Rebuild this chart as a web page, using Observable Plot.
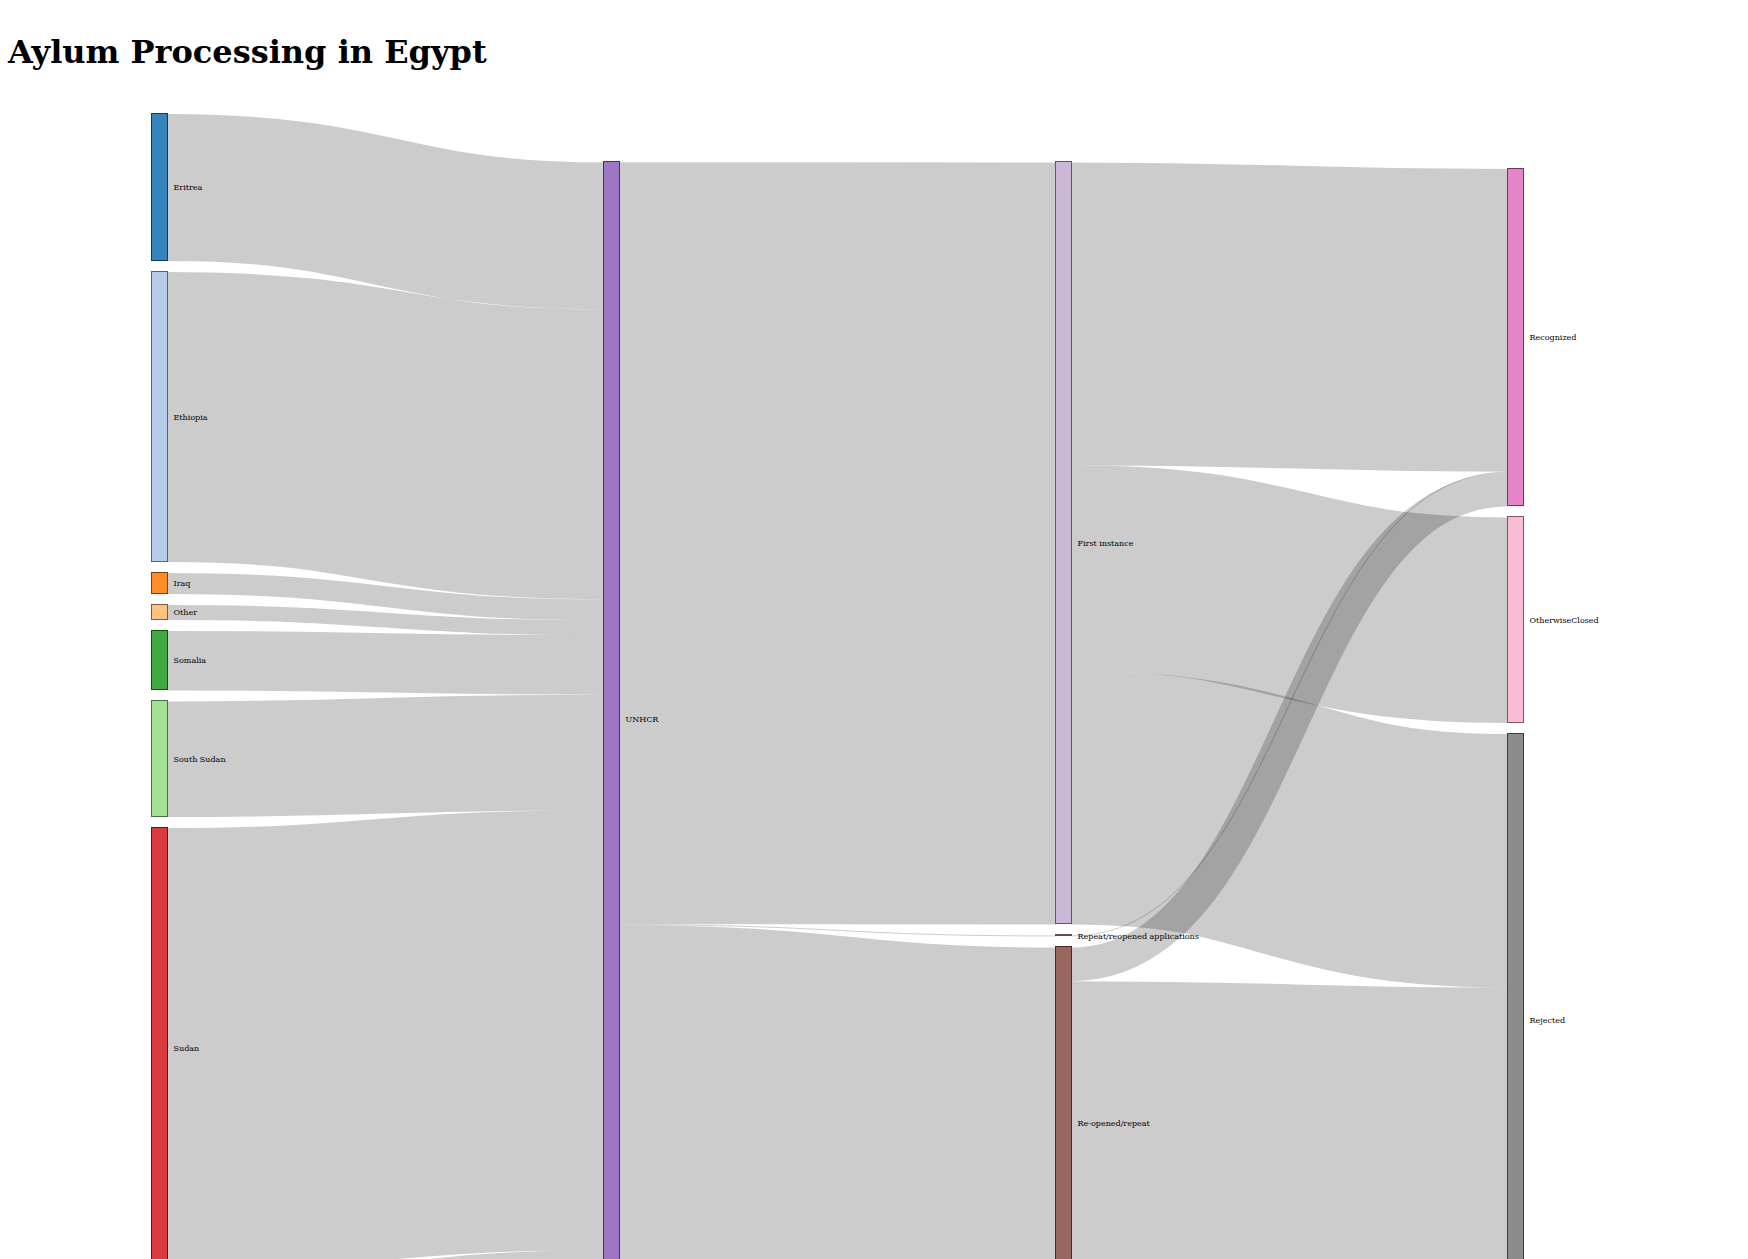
<!DOCTYPE html>
<html><head><meta charset="utf-8">
<script src="https://cdn.jsdelivr.net/npm/d3@7"></script>
<script src="https://cdn.jsdelivr.net/npm/@observablehq/plot@0.6"></script>
<style>
body{margin:0;background:#fff;}
h1{margin:0;padding:32px 0 0 8px;height:48px;font:bold 32px/40px "DejaVu Serif",serif;color:#000;}
#chart svg{display:block;overflow:visible;}
</style></head><body>
<h1>Aylum Processing in Egypt</h1>
<div id="chart"></div>
<script>
// ---- data (cases) ----
const origins = ["Eritrea","Ethiopia","Iraq","Other","Somalia","South Sudan","Sudan","Syria"];
const originCases = [1470, 2900, 210, 150, 594, 1156, 4400, 270];
const office = "UNHCR";
const procedures = ["First instance","Re-opened/repeat","Repeat/reopened applications"];
const outcomes = ["Recognized","OtherwiseClosed","Rejected"];
const firstInstanceOutcomes = [3027, 2056, 2537];
const reopenedOutcomes = [337, 0, 3183];
const repeatOutcomes = [10, 0, 0];

// ---- style / layout parameters ----
const palette = ["#1f77b4","#aec7e8","#ff7f0e","#ffbb78","#2ca02c","#98df8a","#d62728","#ff9896","#9467bd","#c5b0d5","#8c564b","#c49c94","#e377c2","#f7b6d2","#7f7f7f","#c7c7c7"];
const nodePadding = 11, nodeWidth = 16, pxPerCase = 0.1, iterations = 100;

function buildGraph() {
  const names = [...origins, office, ...procedures, ...outcomes];
  const idx = n => names.indexOf(n);
  const L = [];
  origins.forEach((o, i) => L.push({source: idx(o), target: idx(office), value: originCases[i]}));
  const procOut = [firstInstanceOutcomes, reopenedOutcomes, repeatOutcomes];
  procedures.forEach((p, i) => L.push({source: idx(office), target: idx(p), value: d3.sum(procOut[i])}));
  procedures.forEach((p, i) => outcomes.forEach((t, j) => { if (procOut[i][j] > 0) L.push({source: idx(p), target: idx(t), value: procOut[i][j]}); }));
  return {names, L};
}

// Sankey layout (d3-sankey style relaxation)
function sankeyLayout(names, linkList, X0, Y0, X1, Y1) {
  const dx = nodeWidth, py = nodePadding;
  const nodes = names.map((name, index) => ({name, index, sourceLinks: [], targetLinks: []}));
  const links = linkList.map((l, index) => ({index, source: nodes[l.source], target: nodes[l.target], value: l.value}));
  links.forEach(l => { l.source.sourceLinks.push(l); l.target.targetLinks.push(l); });
  nodes.forEach(n => n.value = Math.max(d3.sum(n.sourceLinks, l => l.value), d3.sum(n.targetLinks, l => l.value)));
  let current = new Set(nodes), next = new Set(), x = 0;
  while (current.size) { for (const n of current) { n.depth = x; for (const {target} of n.sourceLinks) next.add(target); } ++x; current = next; next = new Set(); }
  const nCols = d3.max(nodes, d => d.depth) + 1;
  const kx = (X1 - X0 - dx) / (nCols - 1);
  const columns = Array.from({length: nCols}, () => []);
  for (const n of nodes) { const i = n.sourceLinks.length ? n.depth : nCols - 1; n.layer = i; n.x0 = X0 + i * kx; n.x1 = n.x0 + dx; columns[i].push(n); }
  const aB = (a, b) => a.y0 - b.y0;
  const aSB = (a, b) => aB(a.source, b.source) || a.index - b.index;
  const aTB = (a, b) => aB(a.target, b.target) || a.index - b.index;
  const reorderNodeLinks = ({sourceLinks, targetLinks}) => {
    for (const {source: {sourceLinks: s}} of targetLinks) s.sort(aTB);
    for (const {target: {targetLinks: t}} of sourceLinks) t.sort(aSB);
  };
  const ky = d3.min(columns, c => (Y1 - Y0 - (c.length - 1) * py) / d3.sum(c, n => n.value));
  for (const ns of columns) {
    let y = Y0;
    for (const n of ns) { n.y0 = y; n.y1 = y + n.value * ky; y = n.y1 + py; for (const l of n.sourceLinks) l.width = l.value * ky; }
    y = (Y1 - y + py) / (ns.length + 1);
    ns.forEach((n, i) => { n.y0 += y * (i + 1); n.y1 += y * (i + 1); });
    for (const {sourceLinks, targetLinks} of ns) { sourceLinks.sort(aTB); targetLinks.sort(aSB); }
  }
  const targetTop = (source, target) => {
    let y = source.y0 - (source.sourceLinks.length - 1) * py / 2;
    for (const {target: node, width} of source.sourceLinks) { if (node === target) break; y += width + py; }
    for (const {source: node, width} of target.targetLinks) { if (node === source) break; y -= width; }
    return y;
  };
  const sourceTop = (source, target) => {
    let y = target.y0 - (target.targetLinks.length - 1) * py / 2;
    for (const {source: node, width} of target.targetLinks) { if (node === source) break; y += width + py; }
    for (const {target: node, width} of source.sourceLinks) { if (node === target) break; y -= width; }
    return y;
  };
  const resolve = ns => {
    let y = Y0;
    for (const n of ns) { const d = y - n.y0; if (d > 0) n.y0 += d, n.y1 += d; y = n.y1 + py; }
    y = Y1;
    for (let i = ns.length - 1; i >= 0; --i) { const n = ns[i]; const d = n.y1 - y; if (d > 0) n.y0 -= d, n.y1 -= d; y = n.y0 - py; }
  };
  for (let it = 0; it < iterations; ++it) {
    const alpha = Math.pow(0.99, it);
    for (let i = columns.length - 2; i >= 0; --i) {
      const col = columns[i];
      for (const s of col) {
        let y = 0, w = 0;
        for (const {target, value} of s.sourceLinks) { const v = value * (target.layer - s.layer); y += sourceTop(s, target) * v; w += v; }
        if (!(w > 0)) continue;
        const d = (y / w - s.y0) * alpha; s.y0 += d; s.y1 += d; reorderNodeLinks(s);
      }
      col.sort(aB); resolve(col);
    }
    for (let i = 1; i < columns.length; ++i) {
      const col = columns[i];
      for (const t of col) {
        let y = 0, w = 0;
        for (const {source, value} of t.targetLinks) { const v = value * (t.layer - source.layer); y += targetTop(source, t) * v; w += v; }
        if (!(w > 0)) continue;
        const d = (y / w - t.y0) * alpha; t.y0 += d; t.y1 += d; reorderNodeLinks(t);
      }
      col.sort(aB); resolve(col);
    }
  }
  for (const n of nodes) {
    let a = n.y0, b = n.y0;
    for (const l of n.sourceLinks) { l.y0 = a + l.width / 2; a += l.width; }
    for (const l of n.targetLinks) { l.y1 = b + l.width / 2; b += l.width; }
  }
  return {nodes, links};
}

{
  const {names, L} = buildGraph();
  const H = (origins.length - 1) * nodePadding + pxPerCase * d3.sum(originCases);
  const W = 1372;
  const {nodes, links} = sankeyLayout(names, L, 0, 0, W, H);
  const top = 33.5, bottom = 10;
  const chart = Plot.plot({
    width: 1748, height: top + H + bottom,
    marginLeft: 151, marginRight: 1748 - 151 - W, marginTop: top, marginBottom: bottom,
    x: {domain: [0, W], range: [151, 151 + W], axis: null},
    y: {domain: [0, H], range: [top, top + H], axis: null},
    style: {fontFamily: "'DejaVu Serif', serif", background: "white", overflow: "visible"},
    marks: [
      Plot.link(links, {x1: d => d.source.x1, y1: "y0", x2: d => d.target.x0, y2: "y1", curve: "bump-x", stroke: "#000", strokeOpacity: 0.2, strokeWidth: d => Math.max(1, d.width)}),
      Plot.rect(nodes, {x1: "x0", x2: "x1", y1: "y0", y2: "y1", fill: d => palette[d.index], fillOpacity: 0.9, stroke: d => d3.rgb(palette[d.index]).darker(2).formatHex(), shapeRendering: "crispEdges"}),
      Plot.text(nodes, {x: "x1", y: d => (d.y0 + d.y1) / 2, text: "name", dx: 6, textAnchor: "start", fontSize: 8, fill: "#000"})
    ]
  });
  document.getElementById("chart").append(chart);
}
</script>
</body></html>
